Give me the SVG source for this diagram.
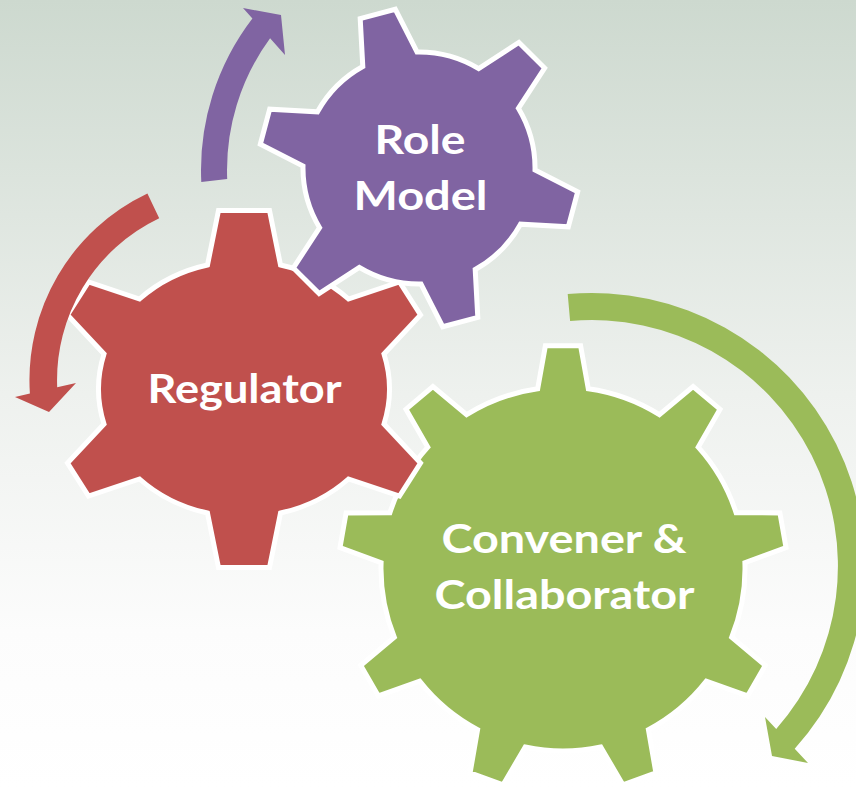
<svg xmlns="http://www.w3.org/2000/svg" width="856" height="788" viewBox="0 0 856 788">
  <defs>
    <linearGradient id="bg" x1="0" y1="0" x2="0" y2="1">
      <stop offset="0" stop-color="#cdd9cf"/>
      <stop offset="0.5" stop-color="#eef1ee"/>
      <stop offset="0.8" stop-color="#fcfcfc"/>
      <stop offset="1" stop-color="#ffffff"/>
    </linearGradient>
  </defs>
  <style>
    .gear { stroke: #ffffff; stroke-width: 5; stroke-linejoin: miter; }
    .label { font-family: Lato, "Open Sans", "Liberation Sans", sans-serif; font-weight: 700; font-size: 40px; fill: #ffffff; text-anchor: middle; }
    .purple { fill: #8064A2; }
    .red { fill: #C0504D; }
    .green { fill: #9BBB59; }
  </style>
  <rect x="0" y="0" width="856" height="788" fill="url(#bg)"/>

  <g id="convener-collaborator">
    <path class="gear green" d="M 537.7,388.8 L 545.4,345.7 L 580.6,345.7 L 588.3,388.8 A 182 182 0 0 1 659.4,414.7 L 693.1,386.6 L 720.0,409.2 L 698.2,447.2 A 182 182 0 0 1 736.1,512.8 L 779.9,512.9 L 786.0,547.5 L 744.9,562.6 A 182 182 0 0 1 731.7,637.2 L 765.2,665.4 L 747.6,695.9 L 706.4,681.1 A 182 182 0 0 1 648.4,729.7 L 655.9,772.8 L 622.9,784.8 L 600.8,747.0 A 182 182 0 0 1 525.2,747.0 L 503.1,784.8 L 470.1,772.8 L 477.6,729.7 A 182 182 0 0 1 419.6,681.1 L 378.4,695.9 L 360.8,665.4 L 394.3,637.2 A 182 182 0 0 1 381.1,562.6 L 340.0,547.5 L 346.1,512.9 L 389.9,512.8 A 182 182 0 0 1 427.8,447.2 L 406.0,409.2 L 432.9,386.6 L 466.6,414.7 A 182 182 0 0 1 537.7,388.8 Z"/>
    <text class="label" x="564" y="553" textLength="245" lengthAdjust="spacingAndGlyphs">Convener &amp;</text>
    <text class="label" x="564.5" y="609" textLength="260" lengthAdjust="spacingAndGlyphs">Collaborator</text>
  </g>

  <g id="regulator">
    <path class="gear red" d="M 207.5,265 L 218.5,210.5 L 269.5,210.5 L 280.5,265 A 145 129 0 0 1 348.5,299 L 399.5,282 L 420.5,315 L 384,354 A 145 129 0 0 1 384,424 L 420.5,463 L 399.5,496 L 348.5,479 A 145 129 0 0 1 280.5,513 L 269.5,567.5 L 218.5,567.5 L 207.5,513 A 145 129 0 0 1 139.5,479 L 88.5,496 L 67.5,463 L 104,424 A 145 129 0 0 1 104,354 L 67.5,315 L 88.5,282 L 139.5,299 A 145 129 0 0 1 207.5,265 Z"/>
    <text class="label" x="244.5" y="403" textLength="194" lengthAdjust="spacingAndGlyphs">Regulator</text>
  </g>

  <g id="role-model">
    <path class="gear purple" d="M 362.8,66.5 L 360.2,18.7 L 395.3,9.3 L 417.0,52.0 A 116 116 0 0 1 478.7,68.6 L 518.9,42.4 L 544.6,68.1 L 518.4,108.3 A 116 116 0 0 1 535.0,170.0 L 577.7,191.7 L 568.3,226.8 L 520.5,224.2 A 116 116 0 0 1 475.2,269.5 L 477.8,317.3 L 442.7,326.7 L 421.0,284.0 A 116 116 0 0 1 359.3,267.4 L 319.1,293.6 L 293.4,267.9 L 319.6,227.7 A 116 116 0 0 1 303.0,166.0 L 260.3,144.3 L 269.7,109.2 L 317.5,111.8 A 116 116 0 0 1 362.8,66.5 Z"/>
    <text class="label" x="420" y="154" textLength="91" lengthAdjust="spacingAndGlyphs">Role</text>
    <text class="label" x="420.5" y="210" textLength="134" lengthAdjust="spacingAndGlyphs">Model</text>
  </g>

  <g id="connectors">
    <path class="purple" d="M 201.3,182 A 249 249 0 0 1 252.4,18.5 L 243,8 L 281,15 L 285,55 L 270.1,38.3 A 223 223 0 0 0 227.2,179 Z"/>
    <path class="red" d="M 147.4,193.5 A 206.5 206.5 0 0 0 29.9,393.6 L 15,397 L 49,412 L 76,383 L 57.2,387.3 A 179 179 0 0 1 159.2,218.3 Z"/>
    <path class="green" d="M 567.7,294.1 A 273 273 0 0 1 794.7,748.8 L 808,763 L 772,756 L 765,717 L 776.2,729.0 A 246 246 0 0 0 570.1,321.0 Z"/>
  </g>
</svg>
